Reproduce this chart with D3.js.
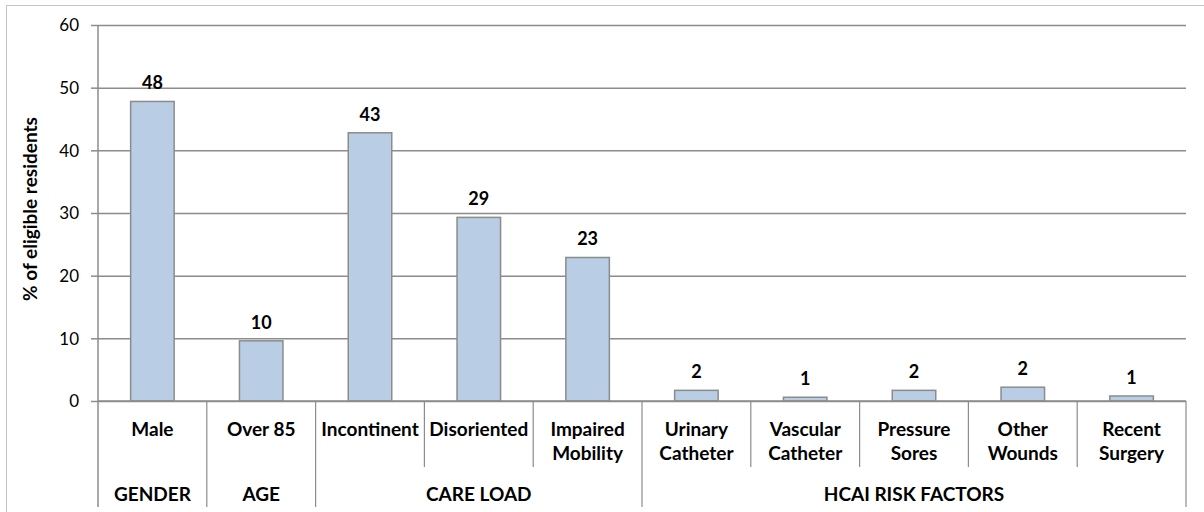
<!DOCTYPE html>
<html>
<head>
<meta charset="utf-8">
<script src="https://cdn.jsdelivr.net/npm/d3@7"></script>
<style>
  body { margin: 0; background: #fff; }
  svg text { font-family: Lato, "Open Sans", sans-serif; fill: #000; }
</style>
</head>
<body>
<script>
// categories (each entry is the lines of the label)
const categories = [
    ["Male"], ["Over 85"], ["Incontinent"], ["Disoriented"], ["Impaired", "Mobility"],
    ["Urinary", "Catheter"], ["Vascular", "Catheter"], ["Pressure", "Sores"],
    ["Other", "Wounds"], ["Recent", "Surgery"]
];
// % of eligible residents
const values = [47.8, 9.6, 42.8, 29.3, 22.9, 1.7, 0.6, 1.7, 2.2, 0.8];
const groups = ["GENDER", "AGE", "CARE LOAD", "HCAI RISK FACTORS"];
const groupSizes = [1, 1, 3, 5];
const yTicks = [0, 10, 20, 30, 40, 50, 60];

var width = 1204,
    height = 512;

var mLeft = 98, mRight = 1186, mTop = 25, mBottom = 401;

var svg = d3.select("body")
    .append("svg")
    .attr("width", width)
    .attr("height", height);

// cadre exterieur
svg.append("rect")
    .attr("x", 6.5).attr("y", 5.5)
    .attr("width", 1220).attr("height", 530)
    .attr("fill", "none")
    .attr("stroke", "#c4c4c4");

var idx = d3.range(categories.length);

var x = d3.scaleBand()
    .domain(idx)
    .range([mLeft, mRight])
    .paddingInner(0.6)
    .paddingOuter(0.3);

// cellules des categories (pour les separateurs)
var cell = d3.scaleBand().domain(idx).range([mLeft, mRight]);

var y = d3.scaleLinear().domain([0, 60]).range([mBottom, mTop]);

// grille
svg.append("g")
    .attr("transform", `translate(${mLeft},0)`)
    .call(d3.axisLeft(y).tickValues(yTicks).tickSize(-(mRight - mLeft)).tickFormat(""))
    .call(g => g.select(".domain").remove())
    .selectAll("line")
    .attr("stroke", "#8c8c8c")
    .attr("stroke-width", 1.5);

// axe y
var yAxis = svg.append("g")
    .attr("transform", `translate(${mLeft},0)`)
    .call(d3.axisLeft(y).tickValues(yTicks).tickSize(7).tickPadding(12));

yAxis.select(".domain").remove();
yAxis.selectAll("line").attr("stroke", "#8c8c8c").attr("stroke-width", 1.5);
yAxis.selectAll("text")
    .style("font-family", "Lato, sans-serif")
    .style("font-size", "17px")
    .attr("dy", "0.35em");

svg.append("line")
    .attr("x1", mLeft).attr("x2", mLeft)
    .attr("y1", mTop).attr("y2", 507)
    .attr("stroke", "#8c8c8c").attr("stroke-width", 1.5);

svg.append("text")
    .attr("transform", `translate(37,${(mTop + mBottom) / 2 - 4}) rotate(-90)`)
    .attr("text-anchor", "middle")
    .style("font-size", "19px")
    .style("font-weight", "bold")
    .text("% of eligible residents");

// barres
svg.selectAll(".bar")
    .data(values)
    .join("rect")
    .attr("class", "bar")
    .attr("x", (d, i) => x(i))
    .attr("width", x.bandwidth())
    .attr("y", d => y(d))
    .attr("height", d => y(0) - y(d))
    .attr("fill", "#b9cde5")
    .attr("stroke", "#8c8c8c")
    .attr("stroke-width", 1.5);

svg.selectAll(".val")
    .data(values)
    .join("text")
    .attr("class", "val")
    .attr("x", (d, i) => x(i) + x.bandwidth() / 2)
    .attr("y", d => y(d) - 12)
    .attr("text-anchor", "middle")
    .style("font-size", "18px")
    .style("font-weight", "bold")
    .text(d => d3.format(".0f")(d));

// axe x
svg.append("line")
    .attr("x1", mLeft).attr("x2", mRight)
    .attr("y1", mBottom).attr("y2", mBottom)
    .attr("stroke", "#8c8c8c").attr("stroke-width", 1.5);

// separateurs entre categories, et entre groupes
var groupEnds = Array.from(d3.cumsum(groupSizes));
var starts = [0].concat(groupEnds.slice(0, -1));
idx.slice(1).forEach(i => {
    var isGroup = groupEnds.includes(i);
    svg.append("line")
        .attr("x1", cell(i)).attr("x2", cell(i))
        .attr("y1", mBottom).attr("y2", isGroup ? 507 : 467)
        .attr("stroke", "#8c8c8c").attr("stroke-width", 1.2);
});
svg.append("line")
    .attr("x1", mRight).attr("x2", mRight)
    .attr("y1", mBottom).attr("y2", 507)
    .attr("stroke", "#8c8c8c").attr("stroke-width", 1.2);

svg.selectAll(".cat")
    .data(categories)
    .join("text")
    .attr("class", "cat")
    .attr("text-anchor", "middle")
    .style("font-size", "19px")
    .style("font-weight", "bold")
    .each(function (lines, i) {
        d3.select(this).selectAll("tspan")
            .data(lines)
            .join("tspan")
            .attr("x", cell(i) + cell.bandwidth() / 2)
            .attr("y", (l, k) => 436 + k * 24)
            .text(l => l);
    });

svg.selectAll(".grp")
    .data(groups)
    .join("text")
    .attr("class", "grp")
    .attr("x", (d, i) => (cell(starts[i]) + (groupEnds[i] < categories.length ? cell(groupEnds[i]) : mRight)) / 2)
    .attr("y", 501)
    .attr("text-anchor", "middle")
    .style("font-size", "19px")
    .style("font-weight", "bold")
    .text(d => d);
</script>
</body>
</html>
